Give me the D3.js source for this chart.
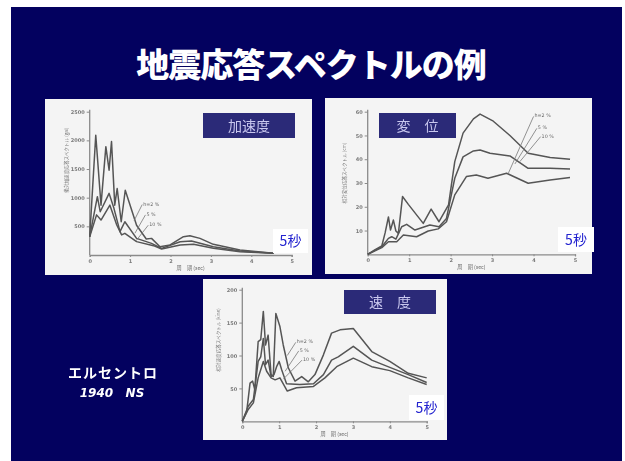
<!DOCTYPE html>
<html>
<head>
<meta charset="utf-8">
<script src="https://cdn.jsdelivr.net/npm/d3@7"></script>
<style>
  html, body { margin: 0; padding: 0; background: #ffffff; }
  svg { display: block; }
</style>
</head>
<body>
<svg id="slide" width="625" height="461"></svg>
<script>
// ---- Response spectra, El Centro 1940 NS (damping h = 2 %, 5 %, 10 %) ----
const dampingLabels = ["h=2 %", "5 %", "10 %"];
const periodTicks = [0, 1, 2, 3, 4, 5];

// Acceleration spectrum [period s, gal]
const accelH2 = [[0,320],[0.15,2090],[0.28,870],[0.40,1890],[0.48,1480],[0.54,1980],[0.62,870],[0.68,1160],[0.78,580],[0.88,1130],[1.16,520],[1.40,280],[1.53,290],[1.74,145],[1.99,175],[2.32,320],[2.48,335],[2.73,290],[3.06,186],[3.72,87],[4.55,30]];
const accelH5 = [[0,320],[0.19,1017],[0.26,755],[0.48,1075],[0.60,814],[0.75,407],[0.87,580],[1.16,290],[1.53,203],[1.78,116],[2.24,232],[2.52,244],[3.06,145],[3.72,70],[4.55,30]];
const accelH10 = [[0,320],[0.17,700],[0.28,610],[0.50,870],[0.67,523],[0.79,350],[0.87,378],[1.16,233],[1.58,163],[1.78,105],[2.24,175],[2.57,186],[3.06,116],[3.72,58],[4.55,30]];
const accelTicks = [500, 1000, 1500, 2000, 2500];

// Displacement spectrum [period s, cm]
const dispH2 = [[0,0],[0.18,2],[0.34,3.5],[0.42,9],[0.50,15.7],[0.55,10.2],[0.62,14.4],[0.68,9.8],[0.74,8.8],[0.84,24.3],[0.98,21],[1.34,13],[1.53,19],[1.72,13.7],[1.95,20.8],[2.10,39],[2.30,51],[2.55,57],[2.71,59],[3.03,56],[3.43,50],[3.87,42.5],[4.40,40.7],[4.88,40]];
const dispH5 = [[0,0],[0.34,3.2],[0.50,6.7],[0.58,7.4],[0.68,6.4],[0.82,11.6],[0.94,12.6],[1.14,10.2],[1.50,12.3],[1.72,11.6],[1.90,15.1],[2.10,32],[2.30,41],[2.55,43.5],[2.71,43.9],[2.95,42.5],[3.43,41.4],[3.87,36.2],[4.40,36.2],[4.88,35.9]];
const dispH10 = [[0,0],[0.34,2.8],[0.50,5.3],[0.70,5.3],[0.86,8.1],[1.18,7.4],[1.46,9.8],[1.70,10.7],[1.90,13.7],[2.10,25],[2.38,32.7],[2.62,33.4],[2.90,32],[3.35,34.1],[3.87,29.9],[4.40,31.3],[4.88,32.3]];
const dispTicks = [10, 20, 30, 40, 50, 60];

// Velocity spectrum [period s, kine]
const veloH2 = [[0,0],[0.12,15],[0.21,58],[0.28,61],[0.34,48],[0.43,121],[0.50,124],[0.57,167],[0.63,116],[0.70,131],[0.78,71],[0.84,68],[0.91,164],[1.02,144],[1.11,116],[1.25,81],[1.43,61],[1.61,68],[1.79,60],[1.97,71],[2.20,101],[2.42,134],[2.65,139],[3.01,141],[3.51,106],[4.00,91],[4.50,73],[5.0,66]];
const veloH5 = [[0,0],[0.16,23],[0.30,33],[0.43,91],[0.50,98],[0.57,126],[0.63,86],[0.70,93],[0.78,68],[0.86,71],[0.93,83],[1.00,91],[1.07,78],[1.20,57],[1.56,56],[1.93,57],[2.20,71],[2.42,93],[2.60,98],[3.01,114],[3.51,93],[4.00,82],[4.50,71],[5.0,59]];
const veloH10 = [[0,0],[0.16,18],[0.30,28],[0.43,66],[0.57,91],[0.66,76],[0.78,66],[0.89,63],[1.02,66],[1.22,46],[1.47,51],[1.93,53],[2.24,66],[2.56,83],[3.01,96],[3.51,83],[4.00,77],[4.50,66],[5.0,56]];
const veloTicks = [50, 100, 150, 200];

// Leader lines for the damping labels: [label anchor, curve end] in data units
const accelLeaders = [[[1.30,880],[1.10,600]],[[1.38,700],[1.12,380]],[[1.45,520],[1.15,250]]];
const dispLeaders = [[[4.00,58],[3.39,34]],[[4.08,53],[3.55,38]],[[4.17,49.5],[3.67,39]]];
const veloLeaders = [[[1.45,120],[1.22,100]],[[1.53,107],[1.16,76]],[[1.62,93],[1.11,64]]];

const svg = d3.select("#slide");
const navy = "#03015f";
const jp = "'Noto Sans CJK JP', 'Noto Sans', sans-serif";

// Slide background
svg.append("rect").attr("x", 11).attr("y", 7).attr("width", 611).attr("height", 454).attr("fill", navy);

// Title
svg.append("text")
  .attr("x", 311).attr("y", 77)
  .attr("text-anchor", "middle")
  .attr("font-family", jp).attr("font-weight", 900)
  .attr("font-size", 33).attr("fill", "#ffffff")
  .attr("letter-spacing", -1)
  .text("地震応答スペクトルの例");

// Soft look of the printed figures
const defs = svg.append("defs");
defs.append("filter").attr("id", "soft").append("feGaussianBlur").attr("stdDeviation", 0.45);
defs.append("filter").attr("id", "softer").append("feGaussianBlur").attr("stdDeviation", 0.3);

function drawPanel(cfg) {
  const g = svg.append("g");
  g.append("rect").attr("x", cfg.box[0]).attr("y", cfg.box[1])
    .attr("width", cfg.box[2]).attr("height", cfg.box[3]).attr("fill", "#f4f4f4");

  const x = d3.scaleLinear().domain([0, 5]).range([cfg.plot.x0, cfg.plot.x1]);
  const y = d3.scaleLinear().domain([0, cfg.ymax]).range([cfg.plot.y0, cfg.plot.y1]);

  const fig = g.append("g").attr("filter", "url(#softer)");

  // Axes
  const xAxis = fig.append("g").attr("transform", `translate(0,${cfg.plot.y0})`)
    .call(d3.axisBottom(x).tickValues(periodTicks).tickSize(2).tickPadding(2).tickFormat(d3.format("d")));
  const yAxis = fig.append("g").attr("transform", `translate(${cfg.plot.x0},0)`)
    .call(d3.axisLeft(y).tickValues(cfg.ticks).tickSize(3).tickPadding(2).tickFormat(d3.format("d")));
  [xAxis, yAxis].forEach(a => {
    a.select(".domain").attr("stroke", "#8a8a8a").attr("stroke-width", 1.3);
    a.selectAll(".tick line").attr("stroke", "#8a8a8a").attr("stroke-width", 1);
    a.selectAll(".tick text").attr("fill", "#7a7a7a").attr("font-size", 5)
      .attr("font-family", "DejaVu Sans, sans-serif").attr("font-weight", "bold");
  });
  yAxis.select(".domain").attr("d", `M0,${cfg.plot.y0}V${cfg.plot.y1 - 2}`);

  // Axis titles
  fig.append("text")
    .attr("x", x(2.5)).attr("y", cfg.plot.y0 + 15)
    .attr("text-anchor", "middle").attr("font-family", jp).attr("font-size", 5.2)
    .attr("fill", "#6a6a6a").text("周　期 (sec)");
  fig.append("text")
    .attr("transform", `translate(${cfg.plot.x0 - 22},${cfg.ytitleY}) rotate(-90)`)
    .attr("text-anchor", "middle").attr("font-family", jp).attr("font-size", 4.6)
    .attr("fill", "#7a7a7a").text(cfg.ytitle);

  // Spectra
  const line = d3.line().x(d => x(d[0])).y(d => y(d[1]));
  g.append("g").attr("filter", "url(#soft)")
    .selectAll("path").data(cfg.series).join("path")
    .attr("d", line).attr("fill", "none")
    .attr("stroke", "#555555").attr("stroke-width", 1.5).attr("stroke-linejoin", "round");

  // Damping labels with leader lines
  const ann = g.append("g").attr("filter", "url(#softer)");
  ann.selectAll("line").data(cfg.leaders).join("line")
    .attr("x1", d => x(d[0][0])).attr("y1", d => y(d[0][1]))
    .attr("x2", d => x(d[1][0])).attr("y2", d => y(d[1][1]))
    .attr("stroke", "#777777").attr("stroke-width", 0.8);
  ann.selectAll("text").data(cfg.leaders).join("text")
    .attr("x", d => x(d[0][0]) + 1).attr("y", d => y(d[0][1]) + 1)
    .attr("font-family", "DejaVu Sans, sans-serif").attr("font-size", 4.8)
    .attr("fill", "#666666")
    .text((d, i) => dampingLabels[i]);

  // Panel caption
  g.append("rect").attr("x", cfg.cap[0]).attr("y", cfg.cap[1])
    .attr("width", cfg.cap[2]).attr("height", cfg.cap[3]).attr("fill", "#2b2a78");
  g.append("text")
    .attr("x", cfg.cap[0] + cfg.cap[2] / 2).attr("y", cfg.cap[1] + cfg.cap[3] / 2 + 5)
    .attr("text-anchor", "middle").attr("font-family", jp).attr("font-size", 14)
    .attr("fill", "#c9c8ef").text(cfg.caption);

  // "5秒" marker
  g.append("rect").attr("x", cfg.sec[0]).attr("y", cfg.sec[1])
    .attr("width", cfg.sec[2]).attr("height", cfg.sec[3]).attr("fill", "#ffffff");
  g.append("text")
    .attr("x", cfg.sec[0] + cfg.sec[2] / 2).attr("y", cfg.sec[1] + cfg.sec[3] / 2 + 5)
    .attr("text-anchor", "middle").attr("font-family", jp).attr("font-size", 14)
    .attr("fill", "#2323cf").text("5秒");
}

drawPanel({
  box: [45, 99, 267, 176],
  plot: { x0: 89.7, x1: 291.7, y0: 255, y1: 111.7 },
  ymax: 2500, ticks: accelTicks,
  series: [accelH2, accelH5, accelH10],
  leaders: accelLeaders,
  ytitle: "絶対加速度応答スペクトル (gal)", ytitleY: 160,
  caption: "加速度", cap: [203, 113, 92, 25],
  sec: [273, 229, 35, 24]
});

drawPanel({
  box: [325, 98, 267, 176],
  plot: { x0: 367.7, x1: 575, y0: 254.3, y1: 111.7 },
  ymax: 60, ticks: dispTicks,
  series: [dispH2, dispH5, dispH10],
  leaders: dispLeaders,
  ytitle: "相対変位応答スペクトル (cm)", ytitleY: 173,
  caption: "変　位", cap: [379, 113, 77, 25],
  sec: [558, 227, 36, 25]
});

drawPanel({
  box: [203, 279, 244, 161],
  plot: { x0: 242.3, x1: 426.7, y0: 421.3, y1: 289.7 },
  ymax: 200, ticks: veloTicks,
  series: [veloH2, veloH5, veloH10],
  leaders: veloLeaders,
  ytitle: "相対速度応答スペクトル (kine)", ytitleY: 340,
  caption: "速　度", cap: [344, 290, 92, 24],
  sec: [409, 395, 35, 25]
});

// Record name
svg.append("text").attr("x", 113).attr("y", 378)
  .attr("text-anchor", "middle").attr("font-family", jp).attr("font-weight", "bold")
  .attr("font-size", 14).attr("letter-spacing", 1).attr("fill", "#ffffff").text("エルセントロ");
svg.append("text").attr("x", 112).attr("y", 397)
  .attr("text-anchor", "middle").attr("font-family", "'DejaVu Sans', sans-serif").attr("font-weight", "bold")
  .attr("font-style", "italic").attr("font-size", 12).attr("fill", "#ffffff")
  .attr("xml:space", "preserve").text("1940   NS");
</script>
</body>
</html>
